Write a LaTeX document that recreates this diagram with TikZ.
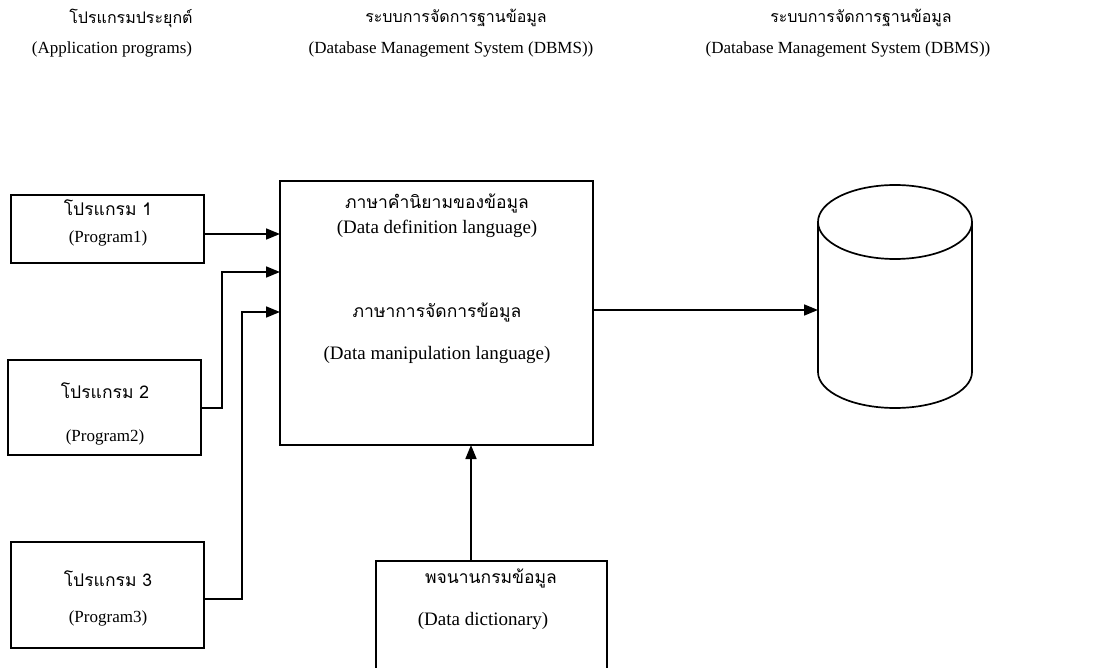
\documentclass[tikz,border=0pt]{standalone}
\usepackage{fontspec}
\setmainfont{Liberation Serif}
\newfontfamily\thaifont[Script=Thai]{Loma}
\usetikzlibrary{arrows.meta,shapes.geometric}
\begin{document}
\begin{tikzpicture}[x=1pt,y=-1pt,
  ln/.style={line width=1.7pt},
  thai/.style={font=\thaifont\fontsize{17.5}{20}\selectfont,inner sep=0pt},
  tthai/.style={font=\thaifont\fontsize{16}{20}\selectfont,inner sep=0pt},
  eng/.style={font=\fontsize{19}{22}\selectfont,inner sep=0pt},
  teng/.style={font=\fontsize{17}{20}\selectfont,inner sep=0pt},
  peng/.style={font=\fontsize{17}{20}\selectfont,inner sep=0pt},
  conn/.style={line width=1.7pt,-{Triangle[length=14pt,width=11pt]}}]
\useasboundingbox (0,0) rectangle (1101,668);
% titles
\node[tthai] (t1a) at (131,18) {โปรแกรมประยุกต์};
\node[teng]  (t1b) at (112,49) {(Application programs)};
\node[tthai] (t2a) at (456,18) {ระบบการจัดการฐานข้อมูล};
\node[teng]  (t2b) at (451,49) {(Database Management System (DBMS))};
\node[tthai] (t3a) at (861,18) {ระบบการจัดการฐานข้อมูล};
\node[teng]  (t3b) at (848,49) {(Database Management System (DBMS))};
% program boxes
\draw[ln] (11,195) rectangle (204,263);
\coordinate (p1r) at (204,234);
\node[thai] (p1a) at (108,208) {โปรแกรม 1};
\node[peng] (p1b) at (108,238) {(Program1)};
\draw[ln] (8,360) rectangle (201,455);
\coordinate (p2r) at (201,408);
\node[thai] (p2a) at (105,391) {โปรแกรม 2};
\node[peng] (p2b) at (105,437) {(Program2)};
\draw[ln] (11,542) rectangle (204,648);
\coordinate (p3r) at (204,599);
\node[thai] (p3a) at (108,579) {โปรแกรม 3};
\node[peng] (p3b) at (108,618) {(Program3)};
% main box
\draw[ln] (280,181) rectangle (593,445);
\coordinate (m1) at (280,234);
\coordinate (m2) at (280,272);
\coordinate (m3) at (280,312);
\coordinate (mr) at (593,310);
\coordinate (mb) at (471,445);
\node[thai] (ddl1) at (437,203) {ภาษาคำนิยามของข้อมูล};
\node[eng]  (ddl2) at (437,229) {(Data definition language)};
\node[thai] (dml1) at (437,312) {ภาษาการจัดการข้อมูล};
\node[eng]  (dml2) at (437,355) {(Data manipulation language)};
% dictionary
\draw[ln] (376,561) rectangle (607,700);
\coordinate (dt) at (471,561);
\node[thai] (dd1) at (491,578) {พจนานกรมข้อมูล};
\node[eng]  (dd2) at (483,621) {(Data dictionary)};
% cylinder
\draw[ln] (818,222) -- (818,372) arc[start angle=180,end angle=0,x radius=77,y radius=36] -- (972,222);
\draw[ln] (895,222) ellipse[x radius=77,y radius=37];
\coordinate (cl) at (818,310);
% connectors
\draw[conn] (p1r) -- (m1);
\draw[conn] (p2r) -- (222,408) -- (222,272) -- (m2);
\draw[conn] (p3r) -- (242,599) -- (242,312) -- (m3);
\draw[conn] (mr) -- (cl);
\draw[conn] (dt) -- (mb);
\end{tikzpicture}
\end{document}
